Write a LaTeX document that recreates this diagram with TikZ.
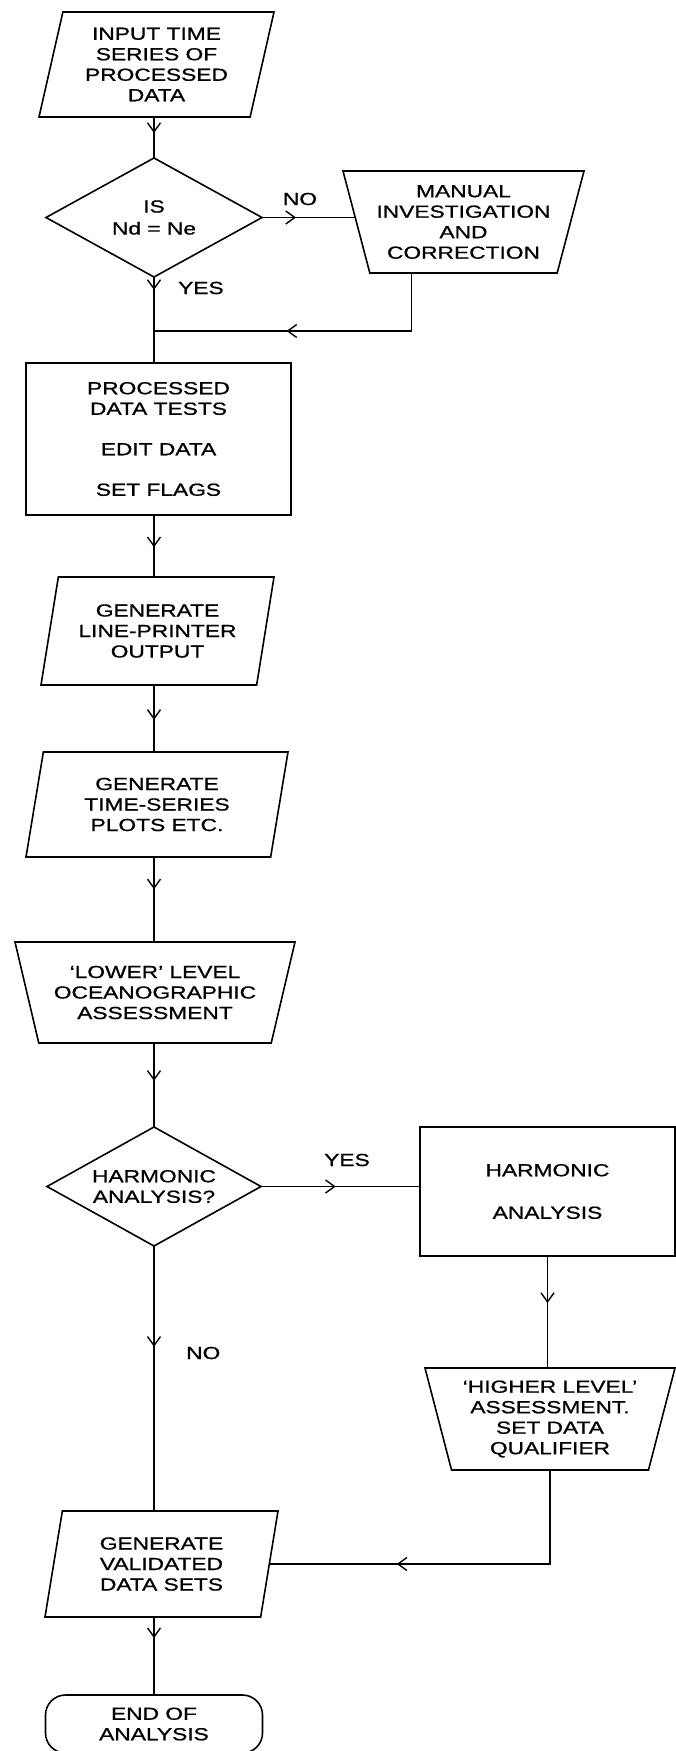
\documentclass[tikz,border=0pt]{standalone}
\usepackage{fontspec}
\newfontfamily\flowfont[FakeStretch=1.3,FakeBold=0.8]{Liberation Sans}
\usepackage{tikz}
\usetikzlibrary{arrows.meta,calc,shapes.geometric,decorations.markings}

\newcommand{\flowtext}{\flowfont\fontsize{17.5}{20.5}\selectfont}

\begin{document}
\begin{tikzpicture}[x=1pt, y=-1pt,
  shapebase/.style={draw, line width=1.6pt, inner sep=0pt, outer sep=0pt,
    align=center, font=\flowtext},
  iobox/.style={shapebase, trapezium, trapezium left angle=72,
    trapezium right angle=108, trapezium stretches body},
  manualbox/.style={shapebase, trapezium, trapezium angle=#1,
    shape border rotate=180, trapezium stretches body},
  manualbox/.default=70,
  procbox/.style={shapebase, rectangle},
  decision/.style={shapebase, diamond, aspect=1.8},
  terminal/.style={shapebase, rectangle, rounded corners=20pt},
  lbl/.style={font=\flowtext, inner sep=0pt},
  link/.style={line width=1.4pt},
  midarrow/.style={link, postaction={decorate}, decoration={markings,
    mark=at position #1 with {\arrow{Straight Barb[length=9pt,width=13pt,line width=1.4pt]}}}}
]
\useasboundingbox (0,0) rectangle (676,1751);

% =========================================================
% MAIN COLUMN (left)
% =========================================================
\node[iobox, minimum width=235pt, minimum height=105pt] (input) at (156.5,64.5)
  {INPUT TIME\\SERIES OF\\PROCESSED\\DATA};
\node[decision, minimum width=216pt, minimum height=119pt] (isnd) at (154,217.5)
  {IS\\[1.5pt]Nd = Ne};
\node[procbox, minimum width=265pt, minimum height=152pt] (proctest) at (158.5,439)
  {PROCESSED\\DATA TESTS\\[20pt]EDIT DATA\\[20pt]SET FLAGS};
\node[iobox, minimum width=233pt, minimum height=108pt] (lineprint) at (157.5,631)
  {GENERATE\\LINE-PRINTER\\OUTPUT};
\node[iobox, minimum width=262pt, minimum height=105pt] (tsplots) at (157,804.5)
  {GENERATE\\TIME-SERIES\\PLOTS ETC.};
\node[manualbox=66, minimum width=280pt, minimum height=101pt] (lower) at (155,992.5)
  {‘LOWER’ LEVEL\\OCEANOGRAPHIC\\ASSESSMENT};
\node[decision, minimum width=214pt, minimum height=119pt] (harmq) at (154,1186.5)
  {HARMONIC\\ANALYSIS?};
\node[iobox, minimum width=233pt, minimum height=106pt] (valid) at (161.5,1564)
  {GENERATE\\VALIDATED\\DATA SETS};
\node[terminal, minimum width=217pt, minimum height=58pt] (finish) at (154,1724)
  {END OF\\ANALYSIS};

% =========================================================
% RIGHT BRANCHES
% =========================================================
\node[manualbox, minimum width=241pt, minimum height=102pt] (manual) at (463.5,222)
  {MANUAL\\INVESTIGATION\\AND\\CORRECTION};
\node[procbox, minimum width=255pt, minimum height=129pt] (harm) at (547.5,1191.5)
  {HARMONIC\\[22pt]ANALYSIS};
\node[manualbox=71, minimum width=250pt, minimum height=102pt] (higher) at (550,1419)
  {‘HIGHER LEVEL’\\ASSESSMENT.\\SET DATA\\QUALIFIER};

% Branch labels
\node[lbl] (no1) at (300,199) {NO};
\node[lbl, anchor=west] (yes1) at (178,288) {YES};
\node[lbl] (yes2) at (347,1160) {YES};
\node[lbl, anchor=west] (no2) at (186,1353) {NO};

% Return points
\coordinate (join) at (isnd |- 0,331);
\coordinate (retstart) at ($(manual.-90)+(-52,0)$);

% =========================================================
% CONNECTORS
% =========================================================
\draw[midarrow=0.39] (isnd |- input.south) -- (isnd.north);
\draw[midarrow=0.36] (isnd.east) -- (isnd.east -| manual.180);
\draw[midarrow=0.15] (isnd.south) -- (isnd |- proctest.north);
\draw[midarrow=0.58] (retstart) |- (join);
\draw[midarrow=0.52] (isnd |- proctest.south) -- (isnd |- lineprint.north);
\draw[midarrow=0.52] (isnd |- lineprint.south) -- (isnd |- tsplots.north);
\draw[midarrow=0.38] (isnd |- tsplots.south) -- (isnd |- lower.90);
\draw[midarrow=0.45] (isnd |- lower.-90) -- (harmq.north);
\draw[midarrow=0.47] (harmq.east) -- (harmq.east -| harm.west);
\draw[midarrow=0.42] (harm.south) -- (harm.south |- higher.90);
\draw[midarrow=0.38] (harmq.south) -- (harmq |- valid.north);
\draw[midarrow=0.66] (higher.south |- higher.-90) |- (valid.0);
\draw[midarrow=0.27] (harmq |- valid.south) -- (finish.north);

\end{tikzpicture}
\end{document}
